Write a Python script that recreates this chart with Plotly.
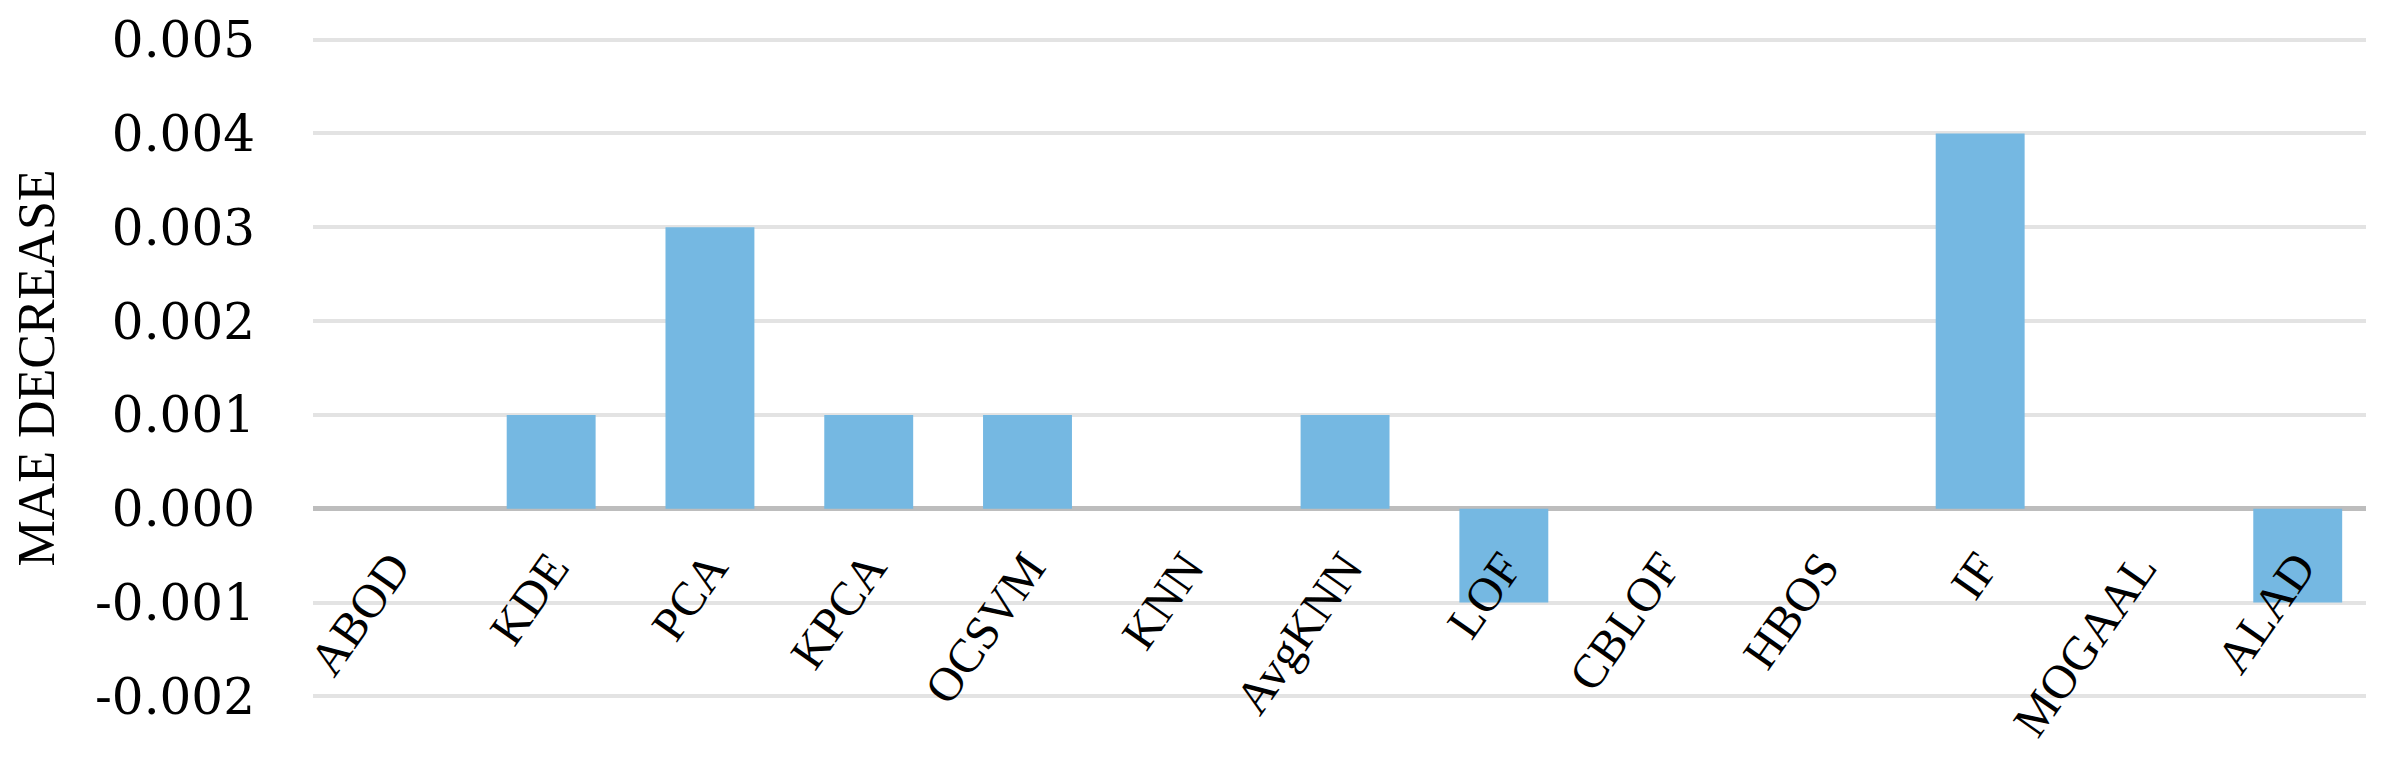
import plotly.graph_objects as go

categories = ["ABOD", "KDE", "PCA", "KPCA", "OCSVM", "KNN", "AvgKNN",
              "LOF", "CBLOF", "HBOS", "IF", "MOGAAL", "ALAD"]
mae_decrease = [0.000, 0.001, 0.003, 0.001, 0.001, 0.000, 0.001,
                -0.001, 0.000, 0.000, 0.004, 0.000, -0.001]
y_tick_vals = [-0.002, -0.001, 0.000, 0.001, 0.002, 0.003, 0.004, 0.005]
y_tick_text = ["-0.002", "-0.001", "0.000", "0.001", "0.002", "0.003", "0.004", "0.005"]

W, H = 2384, 763
PAGE_OFFSET = 8  # default body margin of the html page
y_lo, y_hi = -0.00205, 0.00505
px_per_unit = 93.7 / 0.001
top_px = 40 - (y_hi - 0.005) * px_per_unit - PAGE_OFFSET
plot_h = (y_hi - y_lo) * px_per_unit
bot_px = H - top_px - plot_h

fig = go.Figure()
fig.add_trace(go.Bar(
    x=list(range(len(categories))),
    y=mae_decrease,
    marker=dict(color="#75B8E2", line=dict(width=0)),
    width=0.56,
    showlegend=False,
))

fig.update_layout(
    width=W, height=H,
    paper_bgcolor="white", plot_bgcolor="white",
    margin=dict(l=313 - PAGE_OFFSET, r=26, t=top_px, b=bot_px, autoexpand=False),
    xaxis=dict(
        range=[-0.5, 12.43],
        tickmode="array",
        tickvals=list(range(len(categories))),
        ticktext=categories,
        tickangle=-55,
        showgrid=False, zeroline=False, showline=False,
        ticks="",
        anchor="free",
        position=(0 - y_lo) / (y_hi - y_lo),
        ticklabelstandoff=20,
        tickfont=dict(family="Liberation Serif", size=48, color="black"),
        automargin=False,
    ),
    yaxis=dict(
        range=[y_lo, y_hi],
        tickmode="array",
        tickvals=y_tick_vals,
        ticktext=y_tick_text,
        showgrid=True, gridcolor="#E3E3E3", gridwidth=4,
        zeroline=True, zerolinecolor="#BDBDBD", zerolinewidth=5,
        showline=False, ticks="",
        ticklabelstandoff=57,
        tickfont=dict(family="DejaVu Serif", size=50, color="black"),
        title=dict(text="MAE DECREASE", standoff=60,
                   font=dict(family="Liberation Serif", size=52, color="black")),
        automargin=False,
    ),
)

fig.write_html("out.html")
